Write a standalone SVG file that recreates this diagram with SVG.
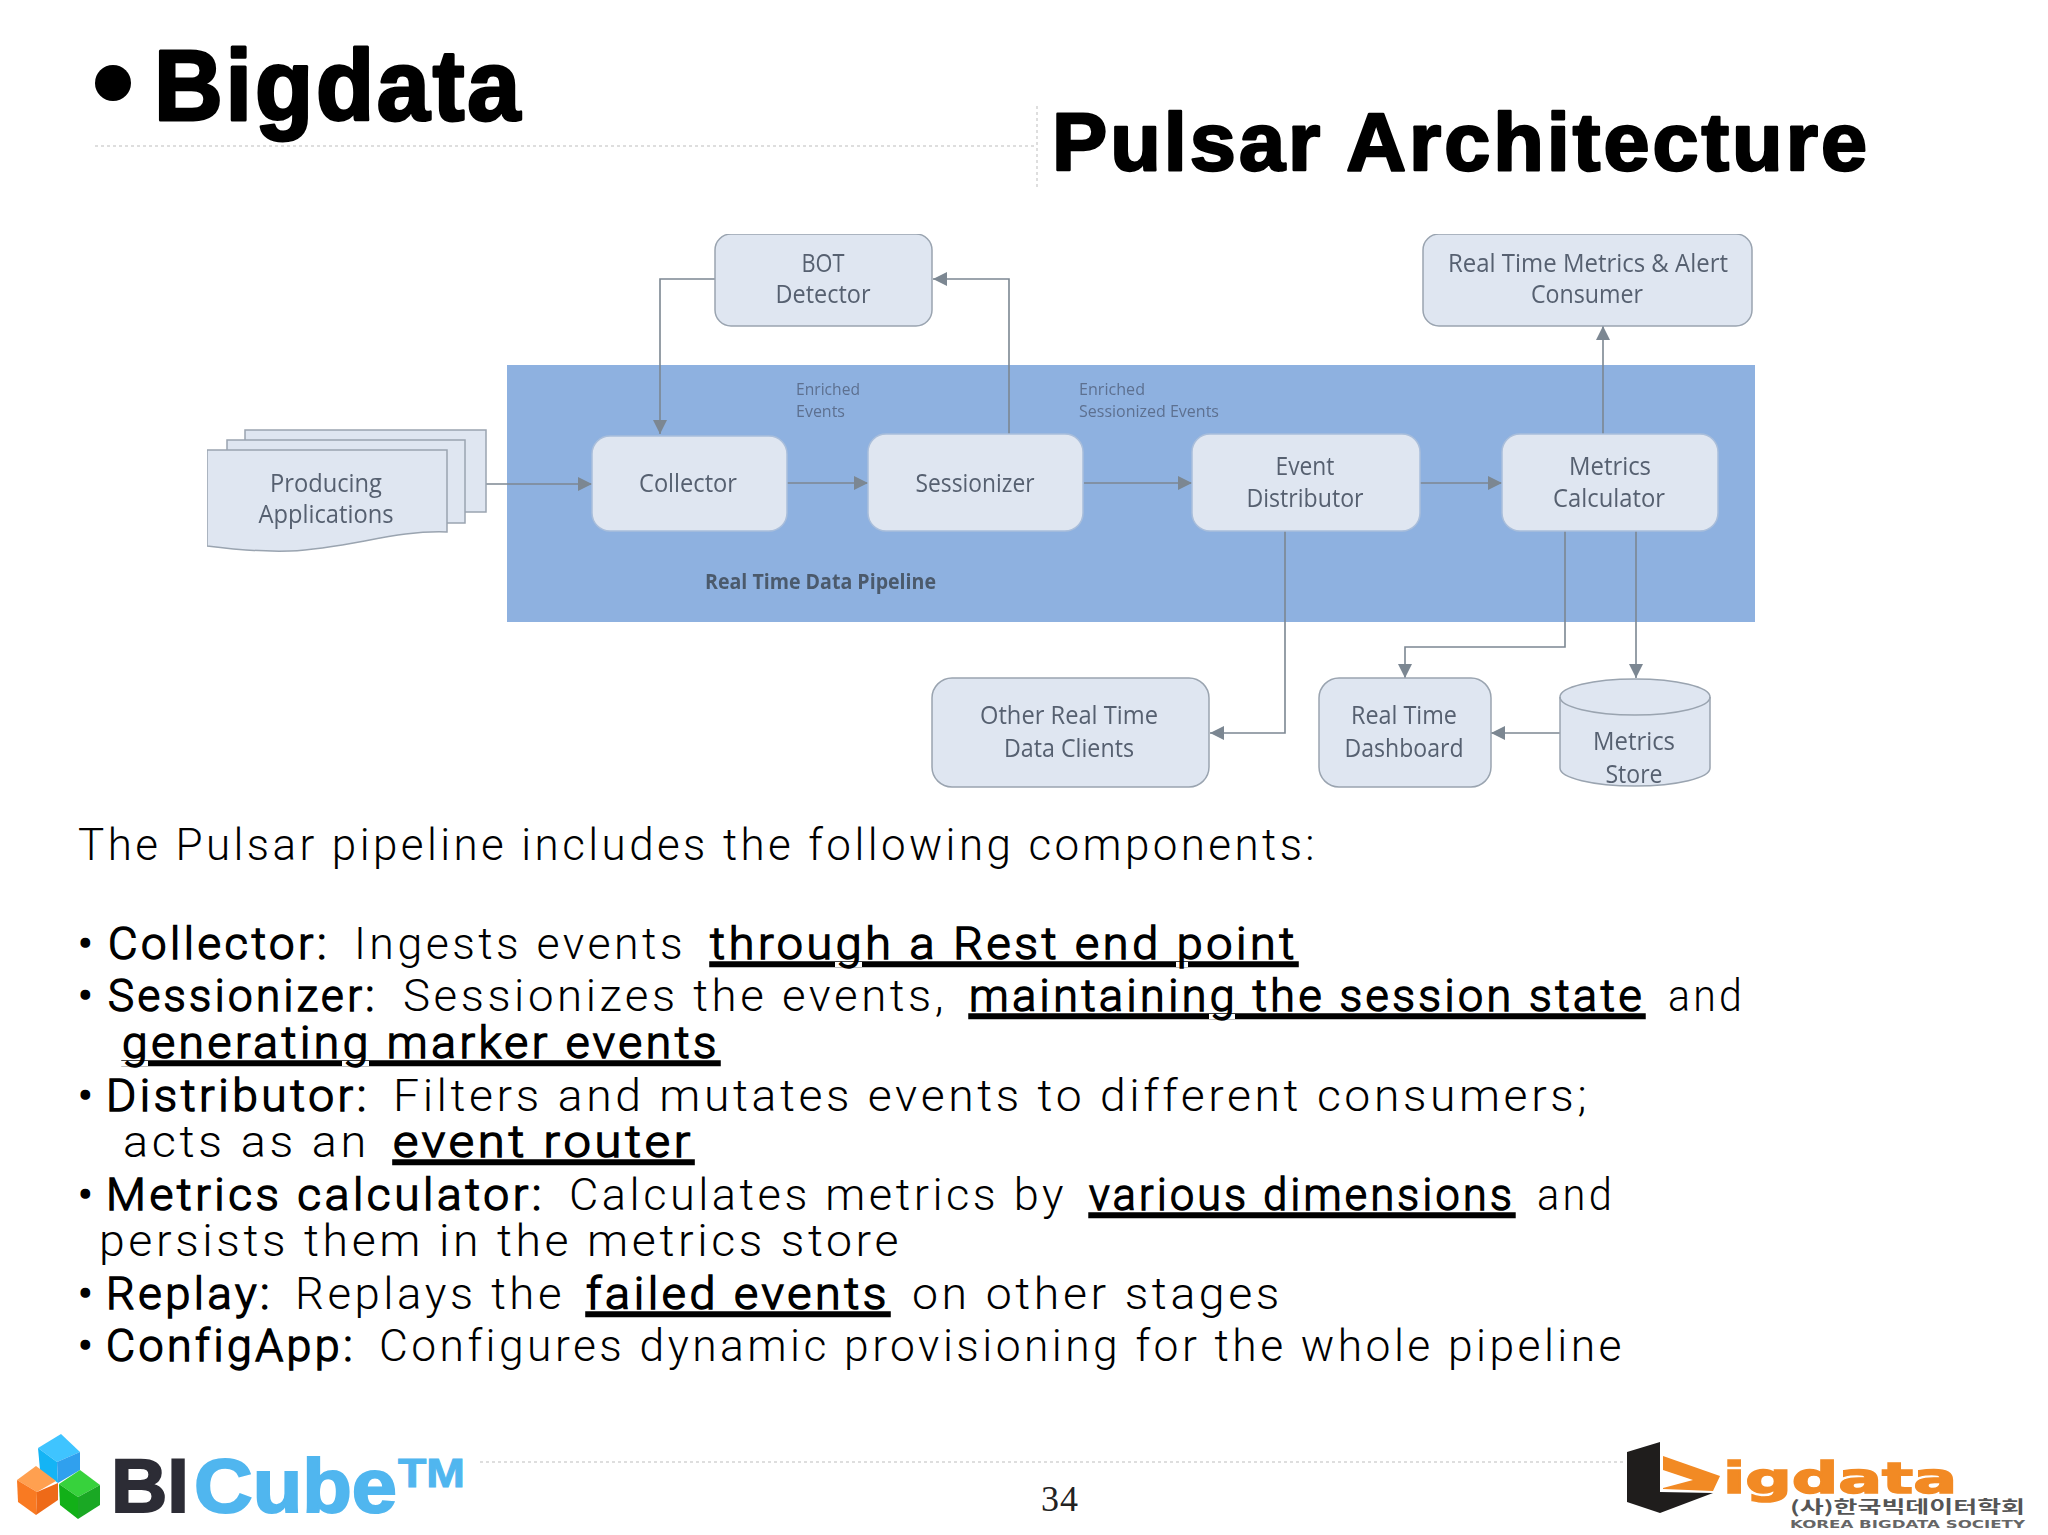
<svg xmlns="http://www.w3.org/2000/svg" width="2048" height="1535" viewBox="0 0 2048 1535">
<style>
.bg{fill:#fff}
.t1{font-family:"Liberation Sans",Arial,sans-serif;font-weight:700;fill:#000;stroke:#000;stroke-linejoin:round}
.lbl{font-family:"Open Sans","Liberation Sans",sans-serif;font-size:25px;fill:#566070;text-anchor:middle}
.sm{font-family:"Open Sans","Liberation Sans",sans-serif;font-size:17px;fill:#5d7090}
.box{fill:#dfe6f1;stroke:#9aa4b0;stroke-width:1.5}
.inbox{fill:#dfe6f1;stroke:#a9bedb;stroke-width:1.5}
.conn{fill:none;stroke:#7c8792;stroke-width:1.6}
.dot{fill:none;stroke:#d4d4d4;stroke-width:1.5;stroke-dasharray:3 3}
.b{font-family:Roboto,"Liberation Sans",sans-serif;font-size:45px;font-weight:300;fill:#000;letter-spacing:3.5px}
.h{stroke:#000;stroke-width:1.5}
.u{text-decoration:underline;text-decoration-skip-ink:none;stroke:#000;stroke-width:1.5}
</style>
<defs>
<marker id="ah" markerUnits="userSpaceOnUse" markerWidth="16" markerHeight="16" refX="14" refY="7" orient="auto"><path d="M0 0L14 7L0 14Z" fill="#7c8792"/></marker>
<filter id="soft" x="0" y="0" width="1" height="1"><feGaussianBlur stdDeviation="0.5"/></filter>
</defs>
<rect class="bg" width="2048" height="1535"/>
<g id="header">
<ellipse cx="113" cy="83" rx="18" ry="18" fill="#000"/>
<text class="t1" x="154" y="120" font-size="100" stroke-width="3" letter-spacing="3" textLength="369" lengthAdjust="spacingAndGlyphs">Bigdata</text>
<text class="t1" x="1052" y="170" font-size="82" stroke-width="2.5" letter-spacing="3" textLength="818" lengthAdjust="spacingAndGlyphs">Pulsar Architecture</text>
<path class="dot" d="M95 146H1037M1037 106V190"/>
</g>
<g filter="url(#soft)">
<rect id="pipeline" x="507" y="365" width="1248" height="257" fill="#8eb1e0"/>
<g id="connectors">
<path class="conn" d="M486 484H592" marker-end="url(#ah)"/>
<path class="conn" d="M787 483H868" marker-end="url(#ah)"/>
<path class="conn" d="M1084 483H1192" marker-end="url(#ah)"/>
<path class="conn" d="M1420 483H1502" marker-end="url(#ah)"/>
<path class="conn" d="M715 279H660V434" marker-end="url(#ah)"/>
<path class="conn" d="M1009 434V279H933" marker-end="url(#ah)"/>
<path class="conn" d="M1603 434V326" marker-end="url(#ah)"/>
<path class="conn" d="M1285 531V733H1210" marker-end="url(#ah)"/>
<path class="conn" d="M1565 531V647H1405V678" marker-end="url(#ah)"/>
<path class="conn" d="M1636 531V678" marker-end="url(#ah)"/>
<path class="conn" d="M1560 733H1491" marker-end="url(#ah)"/>
</g>
<g id="bot-detector"><rect class="box" x="715" y="234" width="217" height="92" rx="16"/>
<text class="lbl" x="823" y="272" textLength="43" lengthAdjust="spacingAndGlyphs">BOT</text>
<text class="lbl" x="823" y="303" textLength="95" lengthAdjust="spacingAndGlyphs">Detector</text></g>
<g id="rt-metrics-alert"><rect class="box" x="1423" y="234" width="329" height="92" rx="16"/>
<text class="lbl" x="1588" y="272" textLength="280" lengthAdjust="spacingAndGlyphs">Real Time Metrics &amp; Alert</text>
<text class="lbl" x="1587" y="303" textLength="112" lengthAdjust="spacingAndGlyphs">Consumer</text></g>
<g id="producing">
<rect class="box" x="245" y="430" width="241" height="82"/>
<rect class="box" x="227" y="440" width="238" height="83"/>
<path class="box" d="M207 450H447V532C395 530 350 548 290 551C255 552 230 549 207 546Z"/>
<text class="lbl" x="326" y="492" textLength="112" lengthAdjust="spacingAndGlyphs">Producing</text>
<text class="lbl" x="326" y="523" textLength="135" lengthAdjust="spacingAndGlyphs">Applications</text></g>
<g id="collector"><rect class="inbox" x="592" y="436" width="195" height="95" rx="18"/>
<text class="lbl" x="688" y="492" textLength="98" lengthAdjust="spacingAndGlyphs">Collector</text></g>
<g id="sessionizer"><rect class="inbox" x="868" y="434" width="215" height="97" rx="18"/>
<text class="lbl" x="975" y="492" textLength="119" lengthAdjust="spacingAndGlyphs">Sessionizer</text></g>
<g id="event-distributor"><rect class="inbox" x="1192" y="434" width="228" height="97" rx="18"/>
<text class="lbl" x="1305" y="475" textLength="59" lengthAdjust="spacingAndGlyphs">Event</text>
<text class="lbl" x="1305" y="507" textLength="117" lengthAdjust="spacingAndGlyphs">Distributor</text></g>
<g id="metrics-calculator"><rect class="inbox" x="1502" y="434" width="216" height="97" rx="18"/>
<text class="lbl" x="1610" y="475" textLength="82" lengthAdjust="spacingAndGlyphs">Metrics</text>
<text class="lbl" x="1609" y="507" textLength="112" lengthAdjust="spacingAndGlyphs">Calculator</text></g>
<g id="other-clients"><rect class="box" x="932" y="678" width="277" height="109" rx="20"/>
<text class="lbl" x="1069" y="724" textLength="178" lengthAdjust="spacingAndGlyphs">Other Real Time</text>
<text class="lbl" x="1069" y="757" textLength="130" lengthAdjust="spacingAndGlyphs">Data Clients</text></g>
<g id="dashboard"><rect class="box" x="1319" y="678" width="172" height="109" rx="20"/>
<text class="lbl" x="1404" y="724" textLength="106" lengthAdjust="spacingAndGlyphs">Real Time</text>
<text class="lbl" x="1404" y="757" textLength="119" lengthAdjust="spacingAndGlyphs">Dashboard</text></g>
<g id="metrics-store">
<path class="box" d="M1560 697C1560 687 1593 679 1635 679C1677 679 1710 687 1710 697V768C1710 778 1677 786 1635 786C1593 786 1560 778 1560 768Z"/>
<path class="box" d="M1560 697C1560 707 1593 715 1635 715C1677 715 1710 707 1710 697" style="fill:none"/>
<text class="lbl" x="1634" y="750" textLength="82" lengthAdjust="spacingAndGlyphs">Metrics</text>
<text class="lbl" x="1634" y="783" textLength="57" lengthAdjust="spacingAndGlyphs">Store</text></g>
<g id="pipeline-labels">
<text class="sm" x="796" y="395" textLength="64" lengthAdjust="spacingAndGlyphs">Enriched</text>
<text class="sm" x="796" y="417" textLength="49" lengthAdjust="spacingAndGlyphs">Events</text>
<text class="sm" x="1079" y="395" textLength="66" lengthAdjust="spacingAndGlyphs">Enriched</text>
<text class="sm" x="1079" y="417" textLength="140" lengthAdjust="spacingAndGlyphs">Sessionized Events</text>
<text x="705" y="589" font-family="Open Sans,Liberation Sans,sans-serif" font-size="22" font-weight="700" fill="#4c5a6c" textLength="231" lengthAdjust="spacingAndGlyphs">Real Time Data Pipeline</text>
</g>
</g>
<g id="body">
<text class="b" x="78" y="860" textLength="1240" lengthAdjust="spacingAndGlyphs">The Pulsar pipeline includes the following components:</text>
<text class="b h" x="78" y="959" style="letter-spacing:0">•</text>
<text class="b h" x="108" y="959" textLength="222" lengthAdjust="spacingAndGlyphs">Collector:</text>
<text class="b" x="354" y="959" textLength="332" lengthAdjust="spacingAndGlyphs">Ingests events</text>
<text class="b u" x="710" y="959" textLength="588" lengthAdjust="spacingAndGlyphs">through a Rest end point</text>
<text class="b h" x="78" y="1011" style="letter-spacing:0">•</text>
<text class="b h" x="108" y="1011" textLength="270" lengthAdjust="spacingAndGlyphs">Sessionizer:</text>
<text class="b" x="403" y="1011" textLength="544" lengthAdjust="spacingAndGlyphs">Sessionizes the events,</text>
<text class="b u" x="969" y="1011" textLength="676" lengthAdjust="spacingAndGlyphs">maintaining the session state</text>
<text class="b" x="1668" y="1011" textLength="77" lengthAdjust="spacingAndGlyphs">and</text>
<text class="b u" x="122" y="1058" textLength="598" lengthAdjust="spacingAndGlyphs">generating marker events</text>
<text class="b h" x="78" y="1111" style="letter-spacing:0">•</text>
<text class="b h" x="106" y="1111" textLength="264" lengthAdjust="spacingAndGlyphs">Distributor:</text>
<text class="b" x="393" y="1111" textLength="1197" lengthAdjust="spacingAndGlyphs">Filters and mutates events to different consumers;</text>
<text class="b" x="123" y="1157" textLength="247" lengthAdjust="spacingAndGlyphs">acts as an</text>
<text class="b u" x="393" y="1157" textLength="301" lengthAdjust="spacingAndGlyphs">event router</text>
<text class="b h" x="78" y="1210" style="letter-spacing:0">•</text>
<text class="b h" x="106" y="1210" textLength="439" lengthAdjust="spacingAndGlyphs">Metrics calculator:</text>
<text class="b" x="569" y="1210" textLength="498" lengthAdjust="spacingAndGlyphs">Calculates metrics by</text>
<text class="b u" x="1089" y="1210" textLength="426" lengthAdjust="spacingAndGlyphs">various dimensions</text>
<text class="b" x="1537" y="1210" textLength="78" lengthAdjust="spacingAndGlyphs">and</text>
<text class="b" x="99" y="1256" textLength="803" lengthAdjust="spacingAndGlyphs">persists them in the metrics store</text>
<text class="b h" x="78" y="1309" style="letter-spacing:0">•</text>
<text class="b h" x="106" y="1309" textLength="167" lengthAdjust="spacingAndGlyphs">Replay:</text>
<text class="b" x="295" y="1309" textLength="270" lengthAdjust="spacingAndGlyphs">Replays the</text>
<text class="b u" x="586" y="1309" textLength="304" lengthAdjust="spacingAndGlyphs">failed events</text>
<text class="b" x="912" y="1309" textLength="371" lengthAdjust="spacingAndGlyphs">on other stages</text>
<text class="b h" x="78" y="1361" style="letter-spacing:0">•</text>
<text class="b h" x="106" y="1361" textLength="250" lengthAdjust="spacingAndGlyphs">ConfigApp:</text>
<text class="b" x="379" y="1361" textLength="1246" lengthAdjust="spacingAndGlyphs">Configures dynamic provisioning for the whole pipeline</text>
</g>
<g id="footer">
<path class="dot" d="M480 1462H1625"/>
<text x="1060" y="1511" font-family="Liberation Serif,serif" font-size="36" fill="#222" text-anchor="middle" letter-spacing="1">34</text>
<g id="cubes">
<path fill="#3fc4ff" d="M61 1434L38 1448L57 1462L80 1452Z"/><path fill="#14b4f5" d="M38 1448L57 1462L58 1483L40 1470Z"/><path fill="#30a0ee" d="M57 1462L80 1452L80 1470L58 1483Z"/>
<path fill="#ffa050" d="M36 1466L17 1480L37 1492L56 1481Z"/><path fill="#f97a22" d="M17 1480L37 1492L36 1515L18 1502Z"/><path fill="#ee6a18" d="M37 1492L58 1483L58 1500L36 1515Z"/>
<path fill="#37d23c" d="M80 1470L59 1484L78 1497L100 1485Z"/><path fill="#12b018" d="M59 1484L78 1497L78 1519L60 1505Z"/><path fill="#1aa824" d="M78 1497L100 1485L100 1505L78 1519Z"/>
</g>
<text x="111" y="1512" font-family="Liberation Sans,sans-serif" font-weight="700" font-size="76" fill="#2c2c35" stroke="#2c2c35" stroke-width="2" textLength="78" lengthAdjust="spacingAndGlyphs">BI</text>
<text x="194" y="1512" font-family="Liberation Sans,sans-serif" font-weight="700" font-size="76" fill="#50b6ef" stroke="#50b6ef" stroke-width="2" textLength="203" lengthAdjust="spacingAndGlyphs">Cube</text>
<text x="398" y="1487" font-family="Liberation Sans,sans-serif" font-weight="700" font-size="41" fill="#50b6ef" stroke="#50b6ef" stroke-width="1" textLength="67" lengthAdjust="spacingAndGlyphs">TM</text>
<g id="bigdata-logo">
<path fill="#1f1d1c" d="M1627 1452L1660 1442V1492L1713 1493L1660 1513L1627 1502Z"/>
<path fill="#f28a24" d="M1663 1456L1720 1476L1713 1491L1663 1489Z"/>
<path fill="#fff" d="M1663 1470L1693 1480L1663 1488Z"/>
<text x="1723" y="1493" font-family="DejaVu Sans,sans-serif" font-weight="700" font-size="42" fill="#f28a24" stroke="#f28a24" stroke-width="1.5" textLength="234" lengthAdjust="spacingAndGlyphs">igdata</text>
<text x="1790" y="1513" font-family="Noto Sans CJK KR,sans-serif" font-weight="700" font-size="17" fill="#555" textLength="235" lengthAdjust="spacingAndGlyphs">(사)한국빅데이터학회</text>
<text x="1790" y="1528" font-family="DejaVu Sans,sans-serif" font-weight="700" font-size="11" fill="#666" textLength="235" lengthAdjust="spacingAndGlyphs">KOREA BIGDATA SOCIETY</text>
</g>
</g>
</svg>
